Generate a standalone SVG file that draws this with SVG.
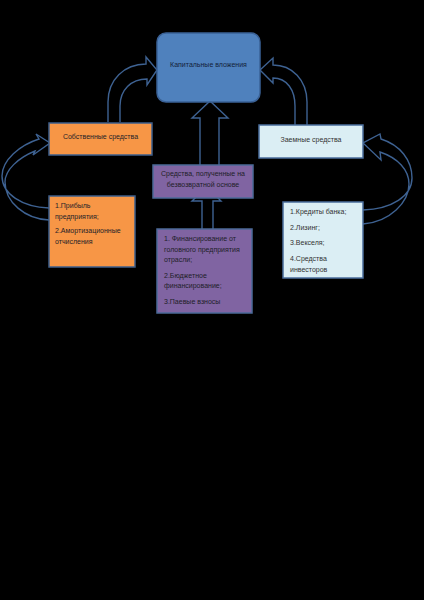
<svg xmlns="http://www.w3.org/2000/svg" width="424" height="600" viewBox="0 0 424 600">
<style>
text{font-family:"Liberation Sans","DejaVu Sans",sans-serif;font-size:7px;fill:#1e1e28}
.c{text-anchor:middle}
.box{stroke-width:1.5}
.arr{fill:none;stroke:#3e6292;stroke-width:1.4;stroke-linejoin:miter}
</style>
<rect width="424" height="600" fill="#000"/>
<g id="connectors">
<path class="arr" d="M200,165 V118 H192 L210,101 L228,118 H219 V165"/>
<path class="arr" d="M202,229 V201 H192 L207,187 L221,201 H213 V229"/>
<path class="arr" d="M108,122 V102 C108,80 124,64 146,64 L146,57 L157,70 L147,85 L147,79 C131,79 120,90 120,106 V122"/>
<path class="arr" d="M307,125 V102 C307,80 292,65 273,65 L273,58 L260,70 L273,83 L273,78 C287,78 295,90 295,106 V125"/>
<path class="arr" d="M49,208 C22,207 2,194 2,176 C2,160 20,145 39,139 L36,134 L50,143 L33,155 L35,151 C18,158 5,170 5,182 C5,202 25,219 49,220"/>
<path class="arr" d="M363,210 C392,209 412,196 412,178 C412,160 400,145 381,139 L380,134 L363,143 L381,160 L380,152 C398,158 409,170 409,184 C409,202 390,222 363,224"/>
</g>
<g id="capital">
<rect class="box" x="157" y="33" width="103" height="69" rx="9" fill="#4f81bd" stroke="#3a6196"/>
<text class="c" x="208.5" y="67" style="fill:#14213a">Капитальные вложения</text>
</g>
<g id="own">
<rect class="box" x="49" y="123" width="103" height="32" fill="#f79646" stroke="#3e5f8c"/>
<text class="c" x="100.5" y="139">Собственные средства</text>
</g>
<g id="borrowed">
<rect class="box" x="259" y="125" width="104" height="33" fill="#dbeef4" stroke="#4a6d9c"/>
<text class="c" x="311" y="142" style="fill:#333">Заемные средства</text>
</g>
<g id="grant">
<rect class="box" x="153" y="165" width="100" height="33" fill="#8064a2" stroke="#4b6a98"/>
<text class="c" x="203" y="176">Средства, полученные на</text>
<text class="c" x="203" y="187">безвозвратной основе</text>
</g>
<g id="own-list">
<rect class="box" x="49" y="196" width="86" height="71" fill="#f79646" stroke="#3e5f8c"/>
<text x="55" y="208">1.Прибыль</text>
<text x="55" y="219">предприятия;</text>
<text x="55" y="233">2.Амортизационные</text>
<text x="55" y="244">отчисления</text>
</g>
<g id="borrowed-list">
<rect class="box" x="283" y="202" width="80" height="76" fill="#dbeef4" stroke="#4a6d9c"/>
<text x="290" y="214" style="fill:#333">1.Кредиты банка;</text>
<text x="290" y="230" style="fill:#333">2.Лизинг;</text>
<text x="290" y="245" style="fill:#333">3.Векселя;</text>
<text x="290" y="261" style="fill:#333">4.Средства</text>
<text x="290" y="272" style="fill:#333">инвесторов</text>
</g>
<g id="grant-list">
<rect class="box" x="157" y="229" width="95" height="84" fill="#8064a2" stroke="#4b6a98"/>
<text x="164" y="241">1. Финансирование от</text>
<text x="164" y="252">головного предприятия</text>
<text x="164" y="262">отрасли;</text>
<text x="164" y="278">2.Бюджетное</text>
<text x="164" y="288">финансирование;</text>
<text x="164" y="304">3.Паевые взносы</text>
</g>
</svg>
